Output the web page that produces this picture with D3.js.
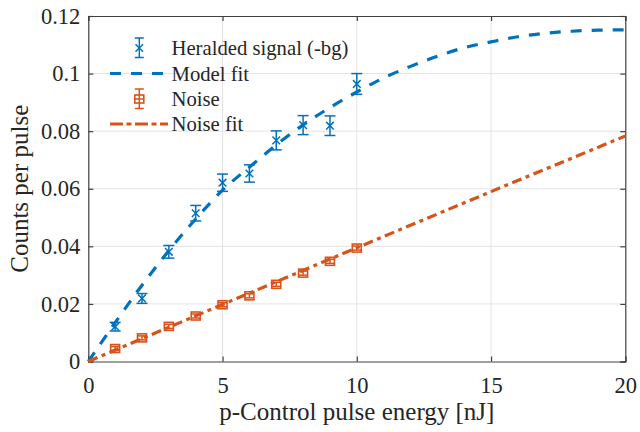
<!DOCTYPE html>
<html><head><meta charset="utf-8">
<script src="https://cdn.jsdelivr.net/npm/d3@7"></script>
<style>body{margin:0;background:#fff}svg{display:block}</style>
</head><body><svg id="c" width="640" height="432"></svg>
<script>
// ---- data ----
const energy = [1,2,3,4,5,6,7,8,9,10];
const signal = [0.0121,0.0219,0.0381,0.0515,0.0621,0.0653,0.0768,0.0821,0.0819,0.0964];
const signalErr = [0.0015,0.0017,0.0022,0.0027,0.0030,0.0030,0.0033,0.0033,0.0034,0.0036];
const noise = [0.0045,0.0082,0.0122,0.0158,0.0197,0.0228,0.0268,0.0307,0.0348,0.0394];
const noiseErr = [0.0007,0.0007,0.0007,0.0007,0.0007,0.0007,0.0007,0.0007,0.0007,0.0007];
const fitX = [0,1,2,3,4,5,6,7,8,9,10,11,12,13,14,15,16,17,18,19,20];
const modelFit = [0,0.0135,0.0265,0.0385,0.0495,0.0595,0.0675,0.0752,0.0822,0.0882,0.0936,0.0985,0.1025,0.106,0.109,0.111,0.1128,0.114,0.1147,0.1151,0.1152];
const noiseFitX = [0,5,10,15,20];
const noiseFit = [0,0.0198,0.0395,0.0590,0.0783];
const xTicks = [0,5,10,15,20];
const yTicks = [0,0.02,0.04,0.06,0.08,0.1,0.12];
const yTickLabels = ["0","0.02","0.04","0.06","0.08","0.1","0.12"];
const legendLabels = ["Heralded signal (-bg)","Model fit","Noise","Noise fit"];
const blue = "#0072BD", orange = "#D95319";
const FONT = "Liberation Serif, Times New Roman, Tinos, DejaVu Serif, serif";

const svg = d3.select("#c");
const L=88.3, R=625.3, T=16, B=361.5;
const x = d3.scaleLinear().domain([0,20]).range([L,R]);
const y = d3.scaleLinear().domain([0,0.12]).range([B,T]);
const axisCol = "#404040";

// grid
const g = svg.append("g");
g.selectAll(".gx").data(xTicks.slice(1,-1)).enter().append("line")
  .attr("x1",d=>x(d)).attr("x2",d=>x(d)).attr("y1",T).attr("y2",B)
  .attr("stroke","#e3e3e3").attr("stroke-width",1);
g.selectAll(".gy").data(yTicks.slice(1,-1)).enter().append("line")
  .attr("y1",d=>y(d)).attr("y2",d=>y(d)).attr("x1",L).attr("x2",R)
  .attr("stroke","#e3e3e3").attr("stroke-width",1);

// axes with inward ticks
const tl = 5;
const axB = svg.append("g").attr("transform",`translate(0,${B})`)
  .call(d3.axisBottom(x).tickValues(xTicks).tickSize(-tl).tickPadding(tl+11).tickFormat(d3.format("d")));
const axT = svg.append("g").attr("transform",`translate(0,${T})`)
  .call(d3.axisTop(x).tickValues(xTicks).tickSize(-tl).tickFormat(""));
const axL = svg.append("g").attr("transform",`translate(${L},0)`)
  .call(d3.axisLeft(y).tickValues(yTicks).tickSize(-tl).tickPadding(tl+3).tickFormat((d,i)=>yTickLabels[i]));
const axR = svg.append("g").attr("transform",`translate(${R},0)`)
  .call(d3.axisRight(y).tickValues(yTicks).tickSize(-tl).tickFormat(""));
[axB,axT,axL,axR].forEach(a=>{
  a.attr("font-family",FONT).attr("font-size",22.5);
  a.select(".domain").attr("stroke",axisCol).attr("stroke-width",1.2);
  a.selectAll(".tick line").attr("stroke",axisCol).attr("stroke-width",1.2);
  a.selectAll("text").attr("fill","#262626");
});
axB.selectAll(".tick text").attr("dy","0.71em");

// fits
const lineGen = d3.line().curve(d3.curveMonotoneX);
svg.append("path").attr("d",lineGen(fitX.map((d,i)=>[x(d),y(modelFit[i])])))
  .attr("fill","none").attr("stroke",blue).attr("stroke-width",3.2).attr("stroke-dasharray","11,10");
svg.append("path").attr("d",lineGen(noiseFitX.map((d,i)=>[x(d),y(noiseFit[i])])))
  .attr("fill","none").attr("stroke",orange).attr("stroke-width",3.2).attr("stroke-dasharray","10,4.5,4,4.5");

// error bars
function errBar(sel, cx, v, e, col, cap){
  sel.append("line").attr("x1",cx).attr("x2",cx).attr("y1",y(v-e)).attr("y2",y(v+e)).attr("stroke",col).attr("stroke-width",1.5);
  [v-e,v+e].forEach(t=>sel.append("line").attr("x1",cx-cap).attr("x2",cx+cap).attr("y1",y(t)).attr("y2",y(t)).attr("stroke",col).attr("stroke-width",1.5));
}
function xMark(sel,cx,cy,col){
  const s=3.8;
  sel.append("path").attr("d",`M${cx-s},${cy-s}L${cx+s},${cy+s}M${cx-s},${cy+s}L${cx+s},${cy-s}`).attr("stroke",col).attr("stroke-width",1.5);
}
function sqMark(sel,cx,cy,col){
  const s=4.5;
  sel.append("rect").attr("x",cx-s).attr("y",cy-s+0.5).attr("width",2*s).attr("height",2*s-1).attr("fill","none").attr("stroke",col).attr("stroke-width",1.6);
}
const mk = svg.append("g");
energy.forEach((d,i)=>{
  errBar(mk,x(d),signal[i],signalErr[i],blue,5.5);
  xMark(mk,x(d),y(signal[i]),blue);
});
energy.forEach((d,i)=>{
  errBar(mk,x(d),noise[i],noiseErr[i],orange,4.5);
  sqMark(mk,x(d),y(noise[i]),orange);
});

// legend
const lg = svg.append("g").attr("font-family",FONT);
const ly = [48,73.5,99,124];
const lx0=110, lx1=168, lxm=139.3, ltx=171.5;
lg.append("line").attr("x1",lxm).attr("x2",lxm).attr("y1",ly[0]-10).attr("y2",ly[0]+9.5).attr("stroke",blue).attr("stroke-width",1.5);
[ly[0]-10,ly[0]+9.5].forEach(t=>lg.append("line").attr("x1",lxm-4.5).attr("x2",lxm+4.5).attr("y1",t).attr("y2",t).attr("stroke",blue).attr("stroke-width",1.5));
xMark(lg,lxm,ly[0],blue);
lg.append("line").attr("x1",lx0).attr("x2",lx1).attr("y1",ly[1]).attr("y2",ly[1]).attr("stroke",blue).attr("stroke-width",3.2).attr("stroke-dasharray","11,10");
lg.append("line").attr("x1",lxm).attr("x2",lxm).attr("y1",ly[2]-10).attr("y2",ly[2]+9.5).attr("stroke",orange).attr("stroke-width",1.5);
[ly[2]-10,ly[2]+9.5].forEach(t=>lg.append("line").attr("x1",lxm-4.5).attr("x2",lxm+4.5).attr("y1",t).attr("y2",t).attr("stroke",orange).attr("stroke-width",1.5));
sqMark(lg,lxm,ly[2],orange);
lg.append("line").attr("x1",lxm-4.5).attr("x2",lxm+4.5).attr("y1",ly[2]).attr("y2",ly[2]).attr("stroke",orange).attr("stroke-width",1.5);
lg.append("line").attr("x1",lx0).attr("x2",lx1).attr("y1",ly[3]).attr("y2",ly[3]).attr("stroke",orange).attr("stroke-width",3.2).attr("stroke-dasharray","13,3.5,5,3.5");
legendLabels.forEach((t,i)=>lg.append("text").attr("x",ltx).attr("y",ly[i]).attr("dy","0.35em").attr("font-size",20.7).attr("fill","#262626").text(t));

// axis labels
svg.append("text").attr("x",(L+R)/2).attr("y",420).attr("text-anchor","middle").attr("font-family",FONT).attr("font-size",25).attr("fill","#262626").text("p-Control pulse energy [nJ]");
svg.append("text").attr("transform",`translate(28,${(T+B)/2}) rotate(-90)`).attr("text-anchor","middle").attr("font-family",FONT).attr("font-size",25).attr("fill","#262626").text("Counts per pulse");
</script></body></html>
